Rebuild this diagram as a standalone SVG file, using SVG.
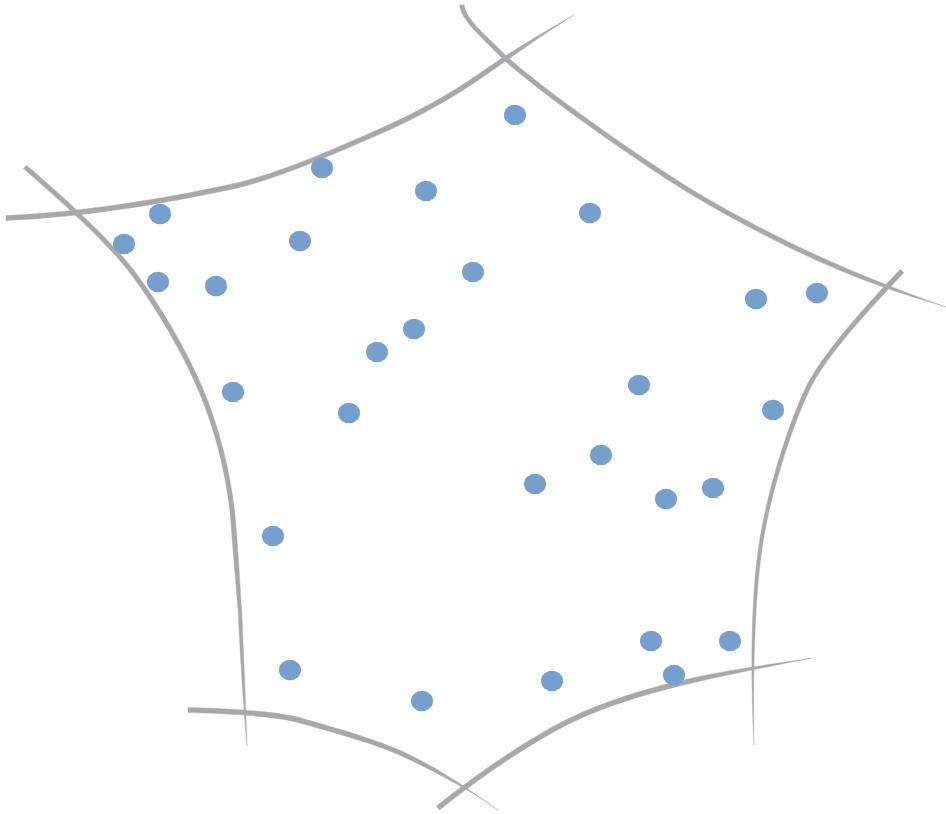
<svg xmlns="http://www.w3.org/2000/svg" width="946" height="814" viewBox="0 0 946 814">
<style>
.ln{fill:#a8a8ab;stroke:#a8a8ab;stroke-width:0.4}
.dot{fill:#769fcd}
</style>
<rect width="946" height="814" fill="#ffffff"/>
<g id="connectors">
<path class="ln" d="M6,215.5 C80,212.5 160,199.5 229.47,184.55 C276.47,174.55 332,150 382,127.71 C412,114.71 448.57,94.95 478.57,73.95 C508.57,53 545,31 574,15 C545,33 511.43,57 481.43,78.05 C451.43,99.05 414,119.29 384,132.29 C334,154 277.53,179.45 230.53,189.45 C160,204.5 80,217.5 6,220.5 Z"/>
<path class="ln" d="M464.3,4.8 C465.3,19.8 486.54,35.3 506.54,56.3 C546.54,92.3 651.17,165.5 701.17,195 C746.17,221.5 795.9,246.9 840.9,265.9 C876,281 915,296 946,307 C915,298 874,285 839.1,270.1 C794.1,251.1 743.83,225.5 698.83,199 C648.83,169.5 543.46,95.7 503.46,59.7 C483.46,38.7 460.7,20.2 459.7,5.2 Z"/>
<path class="ln" d="M903.8,272.7 C873.8,304.7 826,354.9 809,390.9 C789,433.9 768.8,500.25 761.8,550.25 C753.8,607.25 753,690 754,745 C751,690 750.2,606.75 758.2,549.75 C765.2,499.75 785,432.1 805,389.1 C822,353.1 870.2,301.3 900.2,269.3 Z"/>
<path class="ln" d="M436.45,806.05 C471.45,778.05 510.77,750.32 550.77,727.82 C590.77,705.32 636.4,691.57 676.4,681.57 C721.4,670.57 767,665 812,658 C767,667 722.6,675.43 677.6,686.43 C637.6,696.43 593.23,709.68 553.23,732.18 C513.23,754.68 474.55,781.95 439.55,809.95 Z"/>
<path class="ln" d="M188,707.4 C230,708.4 280.7,711.6 302.7,718.6 C330.7,726.6 380,740 410,755 C441,770 470,790 498,810 C470,790 439,774 408,759 C378,744 329.3,731.4 301.3,723.4 C279.3,716.4 230,713.6 188,712.6 Z"/>
<path class="ln" d="M26.5,165.2 C61.5,195.2 110.9,239.6 134.9,271.6 C158.9,303.6 185.2,347.1 202.2,387.1 C219.2,427.1 231.3,473.8 235.3,518.8 C238.3,550 239.8,585 241.8,611.9 C243.8,660 246,710 247,746 C244,710 240.2,660 238.2,612.1 C236.2,585 232.7,550 230.7,519.2 C226.7,474.2 214.8,428.9 197.8,388.9 C180.8,348.9 155.1,306.4 131.1,274.4 C107.1,242.4 58.5,198.8 23.5,168.8 Z"/>
</g>
<g id="n1"><ellipse class="dot" cx="515" cy="115" rx="11" ry="10.3"/></g>
<g id="n2"><ellipse class="dot" cx="322" cy="168" rx="11" ry="10.3"/></g>
<g id="n3"><ellipse class="dot" cx="426" cy="191" rx="11" ry="10.3"/></g>
<g id="n4"><ellipse class="dot" cx="160" cy="214" rx="11" ry="10.3"/></g>
<g id="n5"><ellipse class="dot" cx="590" cy="213" rx="11" ry="10.3"/></g>
<g id="n6"><ellipse class="dot" cx="124" cy="244" rx="11" ry="10.3"/></g>
<g id="n7"><ellipse class="dot" cx="300" cy="241" rx="11" ry="10.3"/></g>
<g id="n8"><ellipse class="dot" cx="473" cy="272" rx="11" ry="10.3"/></g>
<g id="n9"><ellipse class="dot" cx="158" cy="282" rx="11" ry="10.3"/></g>
<g id="n10"><ellipse class="dot" cx="216" cy="286" rx="11" ry="10.3"/></g>
<g id="n11"><ellipse class="dot" cx="756" cy="299" rx="11" ry="10.3"/></g>
<g id="n12"><ellipse class="dot" cx="817" cy="293" rx="11" ry="10.3"/></g>
<g id="n13"><ellipse class="dot" cx="414" cy="329" rx="11" ry="10.3"/></g>
<g id="n14"><ellipse class="dot" cx="377" cy="352" rx="11" ry="10.3"/></g>
<g id="n15"><ellipse class="dot" cx="639" cy="385" rx="11" ry="10.3"/></g>
<g id="n16"><ellipse class="dot" cx="233" cy="392" rx="11" ry="10.3"/></g>
<g id="n17"><ellipse class="dot" cx="349" cy="413" rx="11" ry="10.3"/></g>
<g id="n18"><ellipse class="dot" cx="773" cy="410" rx="11" ry="10.3"/></g>
<g id="n19"><ellipse class="dot" cx="601" cy="455" rx="11" ry="10.3"/></g>
<g id="n20"><ellipse class="dot" cx="535" cy="484" rx="11" ry="10.3"/></g>
<g id="n21"><ellipse class="dot" cx="666" cy="499" rx="11" ry="10.3"/></g>
<g id="n22"><ellipse class="dot" cx="713" cy="488" rx="11" ry="10.3"/></g>
<g id="n23"><ellipse class="dot" cx="273" cy="536" rx="11" ry="10.3"/></g>
<g id="n24"><ellipse class="dot" cx="651" cy="641" rx="11" ry="10.3"/></g>
<g id="n25"><ellipse class="dot" cx="730" cy="641" rx="11" ry="10.3"/></g>
<g id="n26"><ellipse class="dot" cx="674" cy="675" rx="11" ry="10.3"/></g>
<g id="n27"><ellipse class="dot" cx="290" cy="670" rx="11" ry="10.3"/></g>
<g id="n28"><ellipse class="dot" cx="422" cy="701" rx="11" ry="10.3"/></g>
<g id="n29"><ellipse class="dot" cx="552" cy="681" rx="11" ry="10.3"/></g>
</svg>
